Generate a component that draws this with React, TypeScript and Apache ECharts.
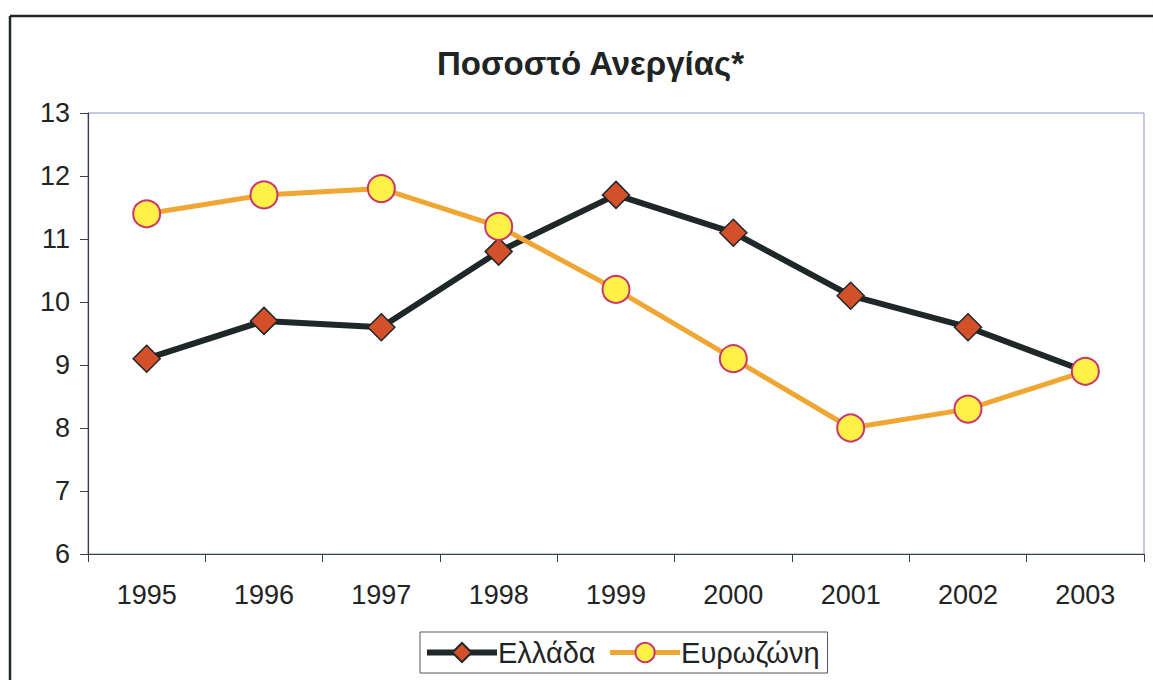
import React, { useEffect, useRef } from "react";
import * as echarts from "echarts";

const years = ["1995", "1996", "1997", "1998", "1999", "2000", "2001", "2002", "2003"];
const greece = [9.1, 9.7, 9.6, 10.8, 11.7, 11.1, 10.1, 9.6, 8.9];
const eurozone = [11.4, 11.7, 11.8, 11.2, 10.2, 9.1, 8.0, 8.3, 8.9];
const seriesNames = ["Ελλάδα", "Ευρωζώνη"];
const titleText = "Ποσοστό Ανεργίας*";

const FONT = "'Liberation Sans', Arial, sans-serif";

export default function App() {
  const ref = useRef<HTMLDivElement>(null);
  useEffect(() => {
    if (!ref.current) return;
    const chart = echarts.init(ref.current, null, { renderer: "svg" });
    chart.setOption({
      animation: false,
      backgroundColor: "#ffffff",
      title: {
        text: titleText,
        left: 432,
        top: 42,
        textStyle: { fontFamily: FONT, fontSize: 33, fontWeight: "bold", color: "#1f2424" },
      },
      grid: {
        left: 88,
        top: 113,
        right: 9,
        bottom: 126,
        show: true,
        borderColor: "#8a94cc",
        borderWidth: 1,
        containLabel: false,
      },
      legend: {
        bottom: 7,
        left: 420,
        itemWidth: 70,
        itemHeight: 24,
        itemGap: 12,
        padding: [6, 8, 6, 4],
        borderColor: "#555",
        borderWidth: 1,
        textStyle: { fontFamily: FONT, fontSize: 29, color: "#1f2424", padding: [0, 0, 0, -4] },
        data: [
          { name: seriesNames[0], lineStyle: { width: 6 } },
          { name: seriesNames[1], lineStyle: { width: 5 } },
        ],
      },
      xAxis: {
        type: "category",
        data: years,
        boundaryGap: true,
        axisLine: { show: true, lineStyle: { color: "#3a3f3f", width: 1.2 } },
        axisTick: { show: true, length: 8, inside: false, lineStyle: { color: "#3a3f3f" } },
        axisLabel: { fontFamily: FONT, fontSize: 27, color: "#1f2424", margin: 27 },
        splitLine: { show: false },
      },
      yAxis: {
        type: "value",
        min: 6,
        max: 13,
        interval: 1,
        axisLine: { show: true, lineStyle: { color: "#3a3f3f", width: 1.2 } },
        axisTick: { show: true, length: 8, inside: false, lineStyle: { color: "#3a3f3f" } },
        axisLabel: { fontFamily: FONT, fontSize: 27, color: "#1f2424", margin: 18 },
        splitLine: { show: false },
      },
      series: [
        {
          name: seriesNames[0],
          type: "line",
          data: greece,
          symbol: "diamond",
          symbolSize: 27,
          lineStyle: { color: "#1e2828", width: 6 },
          itemStyle: { color: "#d4502a", borderColor: "#1e2828", borderWidth: 1.5 },
          z: 2,
        },
        {
          name: seriesNames[1],
          type: "line",
          data: eurozone,
          symbol: "circle",
          symbolSize: 27,
          lineStyle: { color: "#f0a632", width: 5 },
          itemStyle: { color: "#fff046", borderColor: "#c8386e", borderWidth: 2 },
          z: 3,
        },
      ],
      graphic: [
        { type: "line", shape: { x1: 10, y1: 16, x2: 1153, y2: 16 }, style: { stroke: "#1f2a22", lineWidth: 2.5 } },
        { type: "line", shape: { x1: 10, y1: 16, x2: 10, y2: 680 }, style: { stroke: "#1f2a22", lineWidth: 2.5 } },
      ],
    });
    return () => chart.dispose();
  }, []);
  return (
    <div
      ref={ref}
      style={{ position: "fixed", left: 0, top: 0, width: 1153, height: 680 }}
    />
  );
}
